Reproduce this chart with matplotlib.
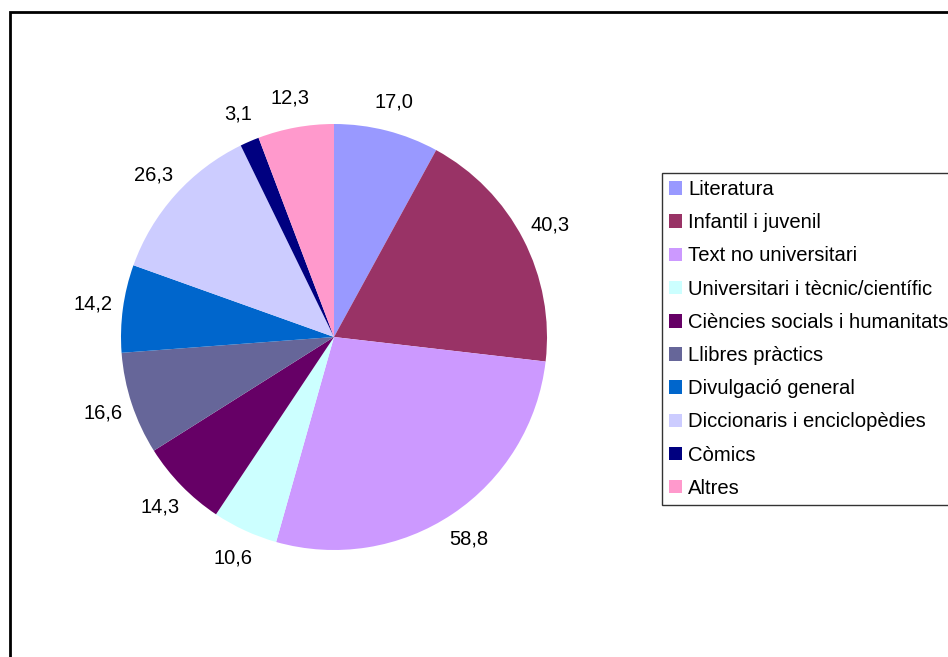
import matplotlib.pyplot as plt
from matplotlib.patches import Patch, Rectangle

plt.rcParams['font.family'] = ['Liberation Sans', 'DejaVu Sans']

categories = ['Literatura', 'Infantil i juvenil', 'Text no universitari',
              'Universitari i tècnic/científic', 'Ciències socials i humanitats',
              'Llibres pràctics', 'Divulgació general', 'Diccionaris i enciclopèdies',
              'Còmics', 'Altres']
values = [17.0, 40.3, 58.8, 10.6, 14.3, 16.6, 14.2, 26.3, 3.1, 12.3]
colors = ['#9999FF', '#993366', '#CC99FF', '#CCFFFF', '#660066',
          '#666699', '#0066CC', '#CCCCFF', '#000080', '#FF99CC']

W, H = 948, 657
fig = plt.figure(figsize=(W / 100, H / 100), dpi=100)

# cadre extérieur (coupé à droite et en bas)
fig.patches.append(Rectangle((10 / W, -0.1), 1.2, 1.1 - 12 / H, transform=fig.transFigure,
                             fill=False, edgecolor='black', linewidth=2))

cx, cy, r = 334, 337, 213
ax = fig.add_axes([(cx - r) / W, (H - cy - r) / H, 2 * r / W, 2 * r / H])

labels = [f'{v:.1f}'.replace('.', ',') for v in values]
wedges, texts = ax.pie(values, colors=colors, startangle=90, counterclock=False,
                       labels=labels, labeldistance=1.14,
                       textprops={'fontsize': 14.5})
for t in texts:
    t.set_ha('center')
    t.set_va('center')
ax.set_xlim(-1, 1)
ax.set_ylim(-1, 1)
ax.set_aspect('equal')
ax.axis('off')

handles = [Patch(facecolor=c, edgecolor='none') for c in colors]
leg = fig.legend(handles, categories, loc='upper left',
                 bbox_to_anchor=(662 / W, 1 - 173 / H), fontsize=14.6,
                 frameon=True, fancybox=False, handlelength=0.65, handleheight=0.65,
                 handletextpad=0.3, labelspacing=0.70, borderpad=0.35,
                 borderaxespad=0)
leg.get_frame().set_edgecolor('black')
leg.get_frame().set_linewidth(1)

fig.savefig('out.png', dpi=100)
